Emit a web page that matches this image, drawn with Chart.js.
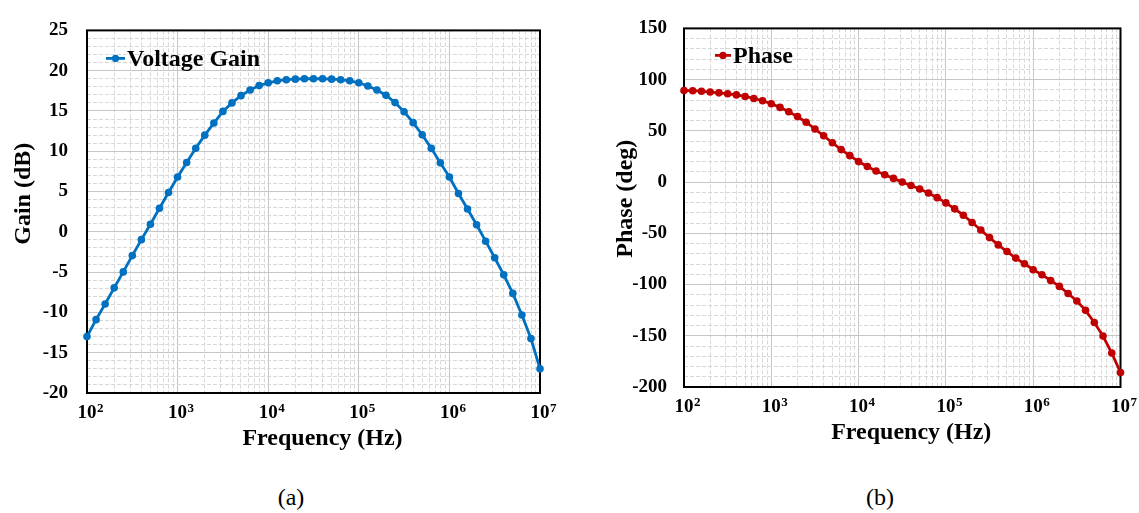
<!DOCTYPE html>
<html>
<head>
<meta charset="utf-8">
<script src="https://cdn.jsdelivr.net/npm/chart.js@4.4.1/dist/chart.umd.min.js"></script>
<style>
  html, body { margin: 0; padding: 0; background: #fff; }
  body { width: 1139px; height: 513px; position: relative; overflow: hidden; }
  canvas { position: absolute; top: 0; }
  #gainCanvas { left: 0; }
  #phaseCanvas { left: 570px; }
  .cap { position: absolute; font-family: "Liberation Serif", "Times New Roman", serif; font-size: 24px; color: #000; transform: translate(-50%, -50%); }
</style>
</head>
<body>
<canvas id="gainCanvas" width="560" height="453"></canvas>
<canvas id="phaseCanvas" width="569" height="453"></canvas>
<div class="cap" style="left:291px; top:497px;">(a)</div>
<div class="cap" style="left:880px; top:497px;">(b)</div>
<script>
// Sweep frequencies (10 points per decade, 100 Hz to 10 MHz)
const frequencyHz = [
  100, 125.9, 158.5, 199.5, 251.2, 316.2, 398.1, 501.2, 631, 794.3,
  1000, 1259, 1585, 1995, 2512, 3162, 3981, 5012, 6310, 7943,
  1e4, 12590, 15850, 19950, 25120, 31620, 39810, 50120, 63100, 79430,
  1e5, 125900, 158500, 199500, 251200, 316200, 398100, 501200, 631000, 794300,
  1e6, 1259000, 1585000, 1995000, 2512000, 3162000, 3981000, 5012000, 6310000, 7943000,
  1e7
];

// Voltage gain (dB)
const gainDb = [
  -13.0, -10.9, -8.95, -6.95, -4.97, -2.95, -0.97, 0.95, 2.92, 4.88,
  6.8, 8.6, 10.38, 12.0, 13.5, 14.95, 16.0, 16.9, 17.6, 18.15,
  18.5, 18.75, 18.88, 18.95, 19.0, 19.0, 19.0, 18.95, 18.88, 18.75,
  18.5, 18.1, 17.6, 16.96, 16.04, 14.9, 13.55, 12.04, 10.36, 8.56,
  6.8, 4.76, 2.84, 0.88, -1.16, -3.22, -5.34, -7.64, -10.32, -13.24,
  -17.0
];

// Phase (degrees)
const phaseDeg = [
  89.4, 89.2, 88.7, 87.9, 87.1, 86.2, 85.1, 83.6, 81.6, 79.4,
  76.5, 72.9, 68.7, 63.9, 58.4, 51.8, 45.2, 38.4, 31.7, 25.8,
  20.0, 15.2, 10.8, 7.2, 3.6, 0, -3.3, -6.8, -10.6, -15.2,
  -20.3, -26.1, -32.3, -39.4, -46.8, -54.2, -61.3, -67.8, -74.2, -79.7,
  -85.5, -90.5, -96, -101.8, -108.7, -116, -125.2, -137.1, -150.3, -166.8,
  -185.8
];

// Axis tick labels
const decadeHz = [1e2, 1e3, 1e4, 1e5, 1e6, 1e7];
const decadeBase = '10';
const decadeExponents = ['2', '3', '4', '5', '6', '7'];
const gainTickLabels = ['-20', '-15', '-10', '-5', '0', '5', '10', '15', '20', '25'];
const phaseTickLabels = ['-200', '-150', '-100', '-50', '0', '50', '100', '150'];

const FONT = '"Liberation Serif", "Times New Roman", serif';
const TICK_SIZE = 19;
const TICK_PAD = 9;
const MAJOR_GRID = '#c6c6c6';
const MINOR_GRID = '#d8d8d8';

function logGridValues() {
  const out = [];
  const last = decadeHz[decadeHz.length - 1];
  decadeHz.forEach(d => {
    for (let m = 1; m <= 9; m++) {
      const v = d * m;
      if (v <= last) out.push(v);
    }
  });
  return out;
}
function isDecade(v) { return decadeHz.indexOf(v) >= 0; }

function linearGridValues(labels, minorStep) {
  const lo = Number(labels[0]);
  const hi = Number(labels[labels.length - 1]);
  const out = [];
  for (let v = lo; v <= hi; v += minorStep) out.push(v);
  return out;
}

// Plot frame, decade exponents and in-plot legend
const framePlugin = {
  id: 'frameLegend',
  beforeDatasetsDraw(chart) {
    const a = chart.chartArea;
    const c = chart.ctx;
    c.save();
    c.strokeStyle = '#000';
    c.lineWidth = 2;
    c.strokeRect(a.left, a.top, a.right - a.left, a.bottom - a.top);
    c.restore();
  },
  afterDatasetsDraw(chart, args, opts) {
    const a = chart.chartArea;
    const c = chart.ctx;
    const ds = chart.data.datasets[0];

    // superscript exponents next to each "10" tick label
    const xs = chart.scales.x;
    c.save();
    c.font = 'bold ' + TICK_SIZE + 'px ' + FONT;
    const baseW = c.measureText(decadeBase).width;
    const yMid = xs.top + TICK_PAD + TICK_SIZE * 1.2 / 2;
    c.font = 'bold 13px ' + FONT;
    c.fillStyle = '#000';
    c.textAlign = 'left';
    c.textBaseline = 'middle';
    decadeHz.forEach((v, i) => {
      const px = xs.getPixelForValue(v);
      c.fillText(decadeExponents[i], px + baseW / 2 + 0.5, yMid - 5);
    });
    c.restore();

    // legend entry: line with marker, then series name
    const x0 = a.left + opts.dx;
    const y0 = a.top + opts.dy;
    c.save();
    c.strokeStyle = ds.borderColor;
    c.lineWidth = 2.8;
    c.beginPath();
    c.moveTo(x0, y0);
    c.lineTo(x0 + opts.len, y0);
    c.stroke();
    c.fillStyle = ds.borderColor;
    c.beginPath();
    c.arc(x0 + opts.len / 2, y0, 3.6, 0, Math.PI * 2);
    c.fill();
    c.fillStyle = '#000';
    c.font = 'bold 24px ' + FONT;
    c.textBaseline = 'middle';
    c.textAlign = 'left';
    c.fillText(ds.label, x0 + opts.len + 2, y0 + 1);
    c.restore();
  }
};

function buildChart(id, o) {
  const tickFont = { family: FONT, size: TICK_SIZE, weight: 'bold' };
  const titleFont = { family: FONT, size: 24, weight: 'bold' };
  return new Chart(document.getElementById(id), {
    type: 'line',
    data: {
      datasets: [{
        label: o.label,
        data: frequencyHz.map((f, i) => ({ x: f, y: o.values[i] })),
        borderColor: o.color,
        backgroundColor: o.color,
        borderWidth: 2.8,
        pointRadius: 3.8,
        pointHoverRadius: 3.8,
        pointBorderWidth: 0,
        pointBackgroundColor: o.color,
        tension: 0,
        clip: false
      }]
    },
    options: {
      responsive: false,
      animation: false,
      devicePixelRatio: 1,
      events: [],
      layout: { padding: o.padding },
      plugins: {
        legend: { display: false },
        tooltip: { enabled: false },
        frameLegend: { dx: o.legendDx, dy: o.legendDy, len: o.legendLen }
      },
      scales: {
        x: {
          type: 'logarithmic',
          min: decadeHz[0],
          max: decadeHz[decadeHz.length - 1],
          afterBuildTicks: s => { s.ticks = logGridValues().map(v => ({ value: v })); },
          afterFit: s => { s.height = o.xAxisHeight; },
          ticks: {
            autoSkip: false, maxRotation: 0, minRotation: 0, padding: TICK_PAD,
            font: tickFont, color: '#000',
            callback: v => isDecade(v) ? decadeBase : ''
          },
          grid: {
            drawTicks: false, lineWidth: 1,
            color: c => (c.tick && isDecade(c.tick.value)) ? MAJOR_GRID : MINOR_GRID
          },
          border: {
            display: false,
            dash: c => (c.tick && !isDecade(c.tick.value)) ? [4, 2] : []
          },
          // leading spaces nudge the centred title slightly to the right
          title: { display: true, text: '   Frequency (Hz)', font: titleFont, color: '#000', padding: 0 }
        },
        y: {
          type: 'linear',
          min: Number(o.yLabels[0]),
          max: Number(o.yLabels[o.yLabels.length - 1]),
          afterBuildTicks: s => { s.ticks = linearGridValues(o.yLabels, o.yMinor).map(v => ({ value: v })); },
          afterFit: s => { s.width = o.yAxisWidth; },
          ticks: {
            autoSkip: false, padding: o.yTickPad,
            font: tickFont, color: '#000',
            callback: v => { const i = o.yLabels.indexOf(String(v)); return i >= 0 ? o.yLabels[i] : ''; }
          },
          grid: {
            drawTicks: false, lineWidth: 1,
            color: c => (c.tick && c.tick.value % o.yMajor === 0) ? MAJOR_GRID : MINOR_GRID
          },
          border: {
            display: false,
            dash: c => (c.tick && c.tick.value % o.yMajor !== 0) ? [4, 2] : []
          },
          // leading spaces lift the rotated title above the axis midpoint
          title: { display: true, text: o.yTitle, font: titleFont, color: '#000', padding: 0 }
        }
      }
    },
    plugins: [framePlugin]
  });
}

buildChart('gainCanvas', {
  label: 'Voltage Gain',
  values: gainDb,
  color: '#0070C0',
  yLabels: gainTickLabels,
  yMinor: 1,
  yMajor: 5,
  yTitle: '      Gain (dB)',
  padding: { left: 9, right: 20, top: 17, bottom: 0 },
  yAxisWidth: 78,
  yTickPad: 19,
  xAxisHeight: 60,
  legendDx: 19,
  legendDy: 28,
  legendLen: 19
});

buildChart('phaseCanvas', {
  label: 'Phase',
  values: phaseDeg,
  color: '#C00000',
  yLabels: phaseTickLabels,
  yMinor: 10,
  yMajor: 50,
  yTitle: '   Phase (deg)',
  padding: { left: 41, right: 15, top: 25, bottom: 6 },
  yAxisWidth: 73,
  yTickPad: 17,
  xAxisHeight: 60,
  legendDx: 31,
  legendDy: 27,
  legendLen: 16
});
</script>
</body>
</html>
